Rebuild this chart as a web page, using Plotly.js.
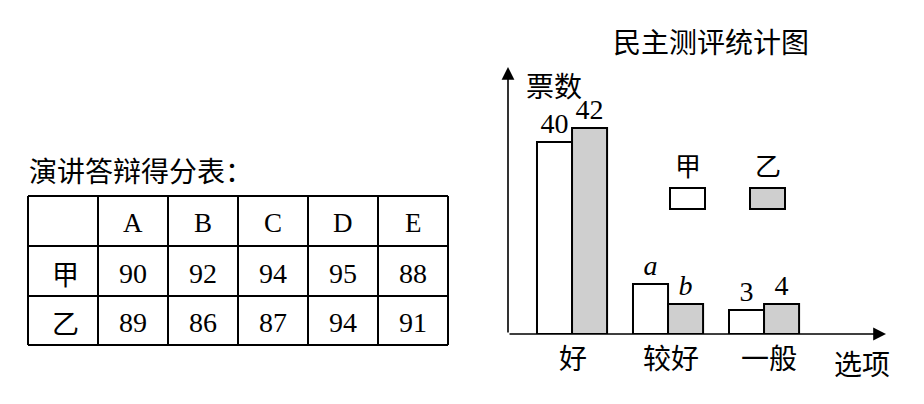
<!DOCTYPE html>
<html>
<head>
<meta charset="utf-8">
<script src="https://cdn.plot.ly/plotly-3.0.1.min.js"></script>
<style>html,body{margin:0;padding:0;background:#fff}#chart{width:924px;height:404px}</style>
</head>
<body>
<div id="chart"></div>
<script>
// ---- data ----
var options = ['好', '较好', '一般'];
var jiaVotes = [40, 10.4, 5];        // bar heights as drawn
var yiVotes = [42.9, 6.25, 6.25];
var jiaLabels = ['40', '<i>a</i>', '3'];
var yiLabels = ['42', '<i>b</i>', '4'];
var seriesNames = ['甲', '乙'];

var tableTitle = '演讲答辩得分表：';
var tableCols = ['A', 'B', 'C', 'D', 'E'];
var tableRows = ['甲', '乙'];
var jiaScores = [90, 92, 94, 95, 88];
var yiScores = [89, 86, 87, 94, 91];

// ---- helpers ----
var W = 924, H = 404;
function X(p) { return p / W; }
function Y(p) { return 1 - p / H; }
var CJK = '"Noto Sans CJK SC", sans-serif';
var SERIF = '"Liberation Serif", "Times New Roman", serif';
var gray = '#cfcfcf';

var shapes = [];
var annotations = [];

// table grid
var colEdges = [28, 98, 168, 238, 308, 378, 448];
var rowEdges = [196, 246, 296, 345];
colEdges.forEach(function (cx) {
  shapes.push({type: 'line', xref: 'paper', yref: 'paper', x0: X(cx), x1: X(cx), y0: Y(rowEdges[0]), y1: Y(rowEdges[3]), line: {color: '#000', width: 2}});
});
rowEdges.forEach(function (ry) {
  shapes.push({type: 'line', xref: 'paper', yref: 'paper', x0: X(colEdges[0]), x1: X(colEdges[6]), y0: Y(ry), y1: Y(ry), line: {color: '#000', width: 2}});
});
function txt(t, px, py, size, family, extra) {
  var a = {text: t, xref: 'paper', yref: 'paper', x: X(px), y: Y(py), xanchor: 'center', yanchor: 'middle', showarrow: false, font: {family: family, size: size, color: '#000'}};
  if (extra) for (var k in extra) a[k] = extra[k];
  annotations.push(a);
}
txt(tableTitle, 27, 170, 28, CJK, {xanchor: 'left'});
var rowCY = [223, 273, 322];
tableCols.forEach(function (c, i) {
  var cx = (colEdges[i + 1] + colEdges[i + 2]) / 2;
  txt(c, cx, rowCY[0], 27, SERIF);
  txt(String(jiaScores[i]), cx, rowCY[1], 28, SERIF);
  txt(String(yiScores[i]), cx, rowCY[2], 28, SERIF);
});
tableRows.forEach(function (r, i) {
  txt(r, 65, rowCY[i + 1], 27, CJK);
});

// chart decorations
txt('民主测评统计图', 711, 41, 28, CJK);
txt('票数', 554, 85, 28, CJK);
txt('选项', 862, 363, 28, CJK);
var catCX = [573, 671, 769];
options.forEach(function (o, i) { txt(o, catCX[i], 357, 28, CJK); });

// axis arrows
annotations.push({text: '', xref: 'paper', yref: 'paper', x: X(508), y: Y(67), ax: 0, ay: 267, axref: 'pixel', ayref: 'pixel', showarrow: true, arrowhead: 2, arrowsize: 1.6, arrowwidth: 1.6, arrowcolor: '#000', standoff: 0, startstandoff: 0});
annotations.push({text: '', xref: 'paper', yref: 'paper', x: X(886), y: Y(334), ax: -378, ay: 0, axref: 'pixel', ayref: 'pixel', showarrow: true, arrowhead: 2, arrowsize: 1.6, arrowwidth: 1.6, arrowcolor: '#000', standoff: 0, startstandoff: 0});

// legend
var legBoxes = [[670, 705, '#ffffff'], [750, 785, gray]];
legBoxes.forEach(function (b, i) {
  shapes.push({type: 'rect', xref: 'paper', yref: 'paper', x0: X(b[0]), x1: X(b[1]), y0: Y(209), y1: Y(188), fillcolor: b[2], line: {color: '#000', width: 2}});
  txt(seriesNames[i], (b[0] + b[1]) / 2, 165, 26, CJK);
});

var barFont = {family: SERIF, size: 28, color: '#000'};
var traces = [
  {type: 'bar', name: seriesNames[0], x: options, y: jiaVotes, text: jiaLabels, textposition: 'outside', textfont: barFont, constraintext: 'none', cliponaxis: false,
    marker: {color: '#ffffff', line: {color: '#000', width: 2}}, hoverinfo: 'skip'},
  {type: 'bar', name: seriesNames[1], x: options, y: yiVotes, text: yiLabels, textposition: 'outside', textfont: barFont, constraintext: 'none', cliponaxis: false,
    marker: {color: gray, line: {color: '#000', width: 2}}, hoverinfo: 'skip'}
];

var layout = {
  width: W, height: H,
  margin: {l: 0, r: 0, t: 0, b: 0},
  paper_bgcolor: '#fff', plot_bgcolor: 'rgba(0,0,0,0)',
  showlegend: false,
  barmode: 'group', bargap: 0.27, bargroupgap: 0,
  xaxis: {domain: [X(508), X(885)], type: 'category', range: [-0.667, 3.26], showgrid: false, zeroline: false, showline: false, showticklabels: false, ticks: '', fixedrange: true},
  yaxis: {domain: [Y(334), Y(68)], range: [0, 55.4], showgrid: false, zeroline: false, showline: false, showticklabels: false, ticks: '', fixedrange: true},
  shapes: shapes,
  annotations: annotations
};

Plotly.newPlot('chart', traces, layout, {displayModeBar: false, staticPlot: true});
</script>
</body>
</html>
